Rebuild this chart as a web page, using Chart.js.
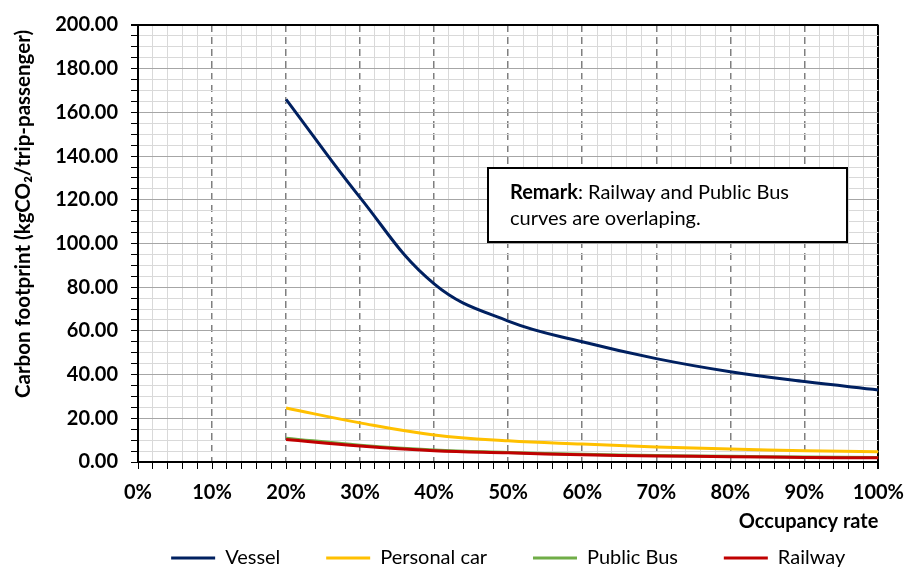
<!DOCTYPE html>
<html>
<head>
<meta charset="utf-8">
<script src="https://cdn.jsdelivr.net/npm/chart.js@4/dist/chart.umd.min.js"></script>
<style>
  html, body { margin: 0; padding: 0; background: #fff; }
  #wrap { width: 916px; height: 574px; }
</style>
</head>
<body>
<div id="wrap"><canvas id="myChart" width="916" height="574"></canvas></div>
<script>
// occupancy rate (%) and carbon footprint per series
var occupancy = [20, 30, 40, 50, 60, 70, 80, 90, 100];
var vessel = [166, 121, 81.5, 64.5, 55, 47.3, 41.3, 36.8, 33];
var personalCar = [24.7, 17.9, 12.4, 9.7, 8.2, 6.9, 5.9, 5.2, 4.7];
var publicBus = [10.9, 7.7, 5.5, 4.4, 3.5, 3.0, 2.6, 2.3, 2.1];
var railway = [10.3, 7.3, 5.2, 4.2, 3.3, 2.8, 2.4, 2.1, 1.9];
var seriesNames = ["Vessel", "Personal car", "Public Bus", "Railway"];
var seriesColors = ["#002060", "#FFC000", "#70AD47", "#C00000"];
var remarkBold = "Remark";
var remarkLines = [": Railway and Public Bus", "curves are overlaping."];

var FONT = "Lato, 'Open Sans', sans-serif";
Chart.defaults.font.family = FONT;
Chart.defaults.color = "#000";

function pts(vals)
{
    var out = [];
    for (var i = 0; i < occupancy.length; i++) {
        out.push({x: occupancy[i], y: vals[i]});
    }
    return out;
}

var allSeries = [vessel, personalCar, publicBus, railway];
var drawOrder = [2, 3, 1, 0]; // railway on top of public bus
var datasets = [];
for (var k = 0; k < allSeries.length; k++) {
    datasets.push({
        label: seriesNames[k],
        data: pts(allSeries[k]),
        borderColor: seriesColors[k],
        backgroundColor: seriesColors[k],
        borderWidth: 3,
        pointRadius: 0,
        tension: 0.4,
        order: drawOrder[k],
        xAxisID: 'x'
    });
}

// text box in the plot
var remarkBox = {
    id: 'remarkBox',
    afterDraw: function(chart) {
        var ctx = chart.ctx;
        ctx.save();
        ctx.fillStyle = '#fff';
        ctx.fillRect(488, 168, 359, 74);
        ctx.strokeStyle = '#000';
        ctx.lineWidth = 2;
        ctx.strokeRect(488, 168, 359, 74);
        ctx.fillStyle = '#000';
        ctx.textBaseline = 'middle';
        ctx.font = "bold 20px " + FONT;
        ctx.fillText(remarkBold, 510, 193);
        var w = ctx.measureText(remarkBold).width;
        ctx.font = "20px " + FONT;
        ctx.fillText(remarkLines[0], 510 + w, 193);
        ctx.fillText(remarkLines[1], 510, 219);
        ctx.restore();
    }
};

var ctx = document.getElementById('myChart').getContext('2d');
var myChart = new Chart(ctx, {
    type: 'line',
    data: { datasets: datasets },
    options: {
        responsive: false,
        animation: false,
        layout: { padding: { top: 15, right: 32, left: 0, bottom: -4 } },
        plugins: {
            tooltip: { enabled: false },
            legend: {
                position: 'bottom',
                fullSize: false,
                labels: {
                    font: { size: 20 },
                    usePointStyle: true,
                    pointStyle: 'line',
                    pointStyleWidth: 44,
                    padding: 10,
                    sort: function(a, b) { return a.datasetIndex - b.datasetIndex; },
                    generateLabels: function(chart) {
                        var items = Chart.defaults.plugins.legend.labels.generateLabels(chart);
                        items.forEach(function(it) {
                            // extra room after every entry but the last
                            if (it.datasetIndex < seriesNames.length - 1) it.text = it.text + '       ';
                        });
                        return items;
                    }
                }
            }
        },
        scales: {
            x: {
                type: 'linear',
                min: 0,
                max: 100,
                afterFit: function(s) { s.height = 76; },
                ticks: {
                    stepSize: 2,
                    autoSkip: false,
                    maxRotation: 0,
                    padding: 12,
                    font: { size: 20, weight: 'bold' },
                    callback: function(v) { return v % 10 === 0 ? v + '%' : ''; }
                },
                grid: {
                    tickLength: 7,
                    tickColor: '#000',
                    color: function(c) {
                        var v = c.tick ? c.tick.value : 0;
                        if (v === 100) return '#000';
                        if (v % 10 === 0) return 'rgba(0,0,0,0)';
                        return '#d9d9d9';
                    },
                    lineWidth: function(c) {
                        return c.tick && c.tick.value === 100 ? 2 : 1;
                    }
                },
                border: { color: '#000', width: 2 },
                title: {
                    display: true,
                    text: 'Occupancy rate',
                    align: 'end',
                    font: { size: 20, weight: 'bold' },
                    padding: { top: 2, bottom: 4 }
                }
            },
            x2: {
                type: 'linear',
                position: 'top',
                min: 0,
                max: 100,
                ticks: { display: false, stepSize: 10 },
                grid: {
                    drawTicks: false,
                    color: function(c) {
                        var v = c.tick ? c.tick.value : 0;
                        return (v === 0 || v === 100) ? 'rgba(0,0,0,0)' : '#7f7f7f';
                    },
                    lineWidth: 1.5
                },
                border: { display: false, dash: [7, 5] }
            },
            y: {
                min: 0,
                max: 200,
                afterFit: function(s) { s.width = 138; },
                ticks: {
                    stepSize: 5,
                    autoSkip: false,
                    padding: 13,
                    font: { size: 20, weight: 'bold' },
                    callback: function(v) { return v % 20 === 0 ? v.toFixed(2) : ''; }
                },
                grid: {
                    tickLength: 7,
                    tickColor: '#000',
                    color: function(c) {
                        var v = c.tick ? c.tick.value : 0;
                        if (v === 200) return '#000';
                        if (v % 20 === 0) return '#a6a6a6';
                        return '#d9d9d9';
                    },
                    lineWidth: function(c) {
                        return c.tick && c.tick.value === 200 ? 2 : 1;
                    }
                },
                border: { color: '#000', width: 2 },
                title: {
                    display: true,
                    text: 'Carbon footprint (kgCO\u2082/trip-passenger) ',
                    align: 'end',
                    font: { size: 20.5, weight: 'bold' },
                    padding: { top: 11, bottom: 0 }
                }
            }
        }
    },
    plugins: [remarkBox]
});
</script>
</body>
</html>
